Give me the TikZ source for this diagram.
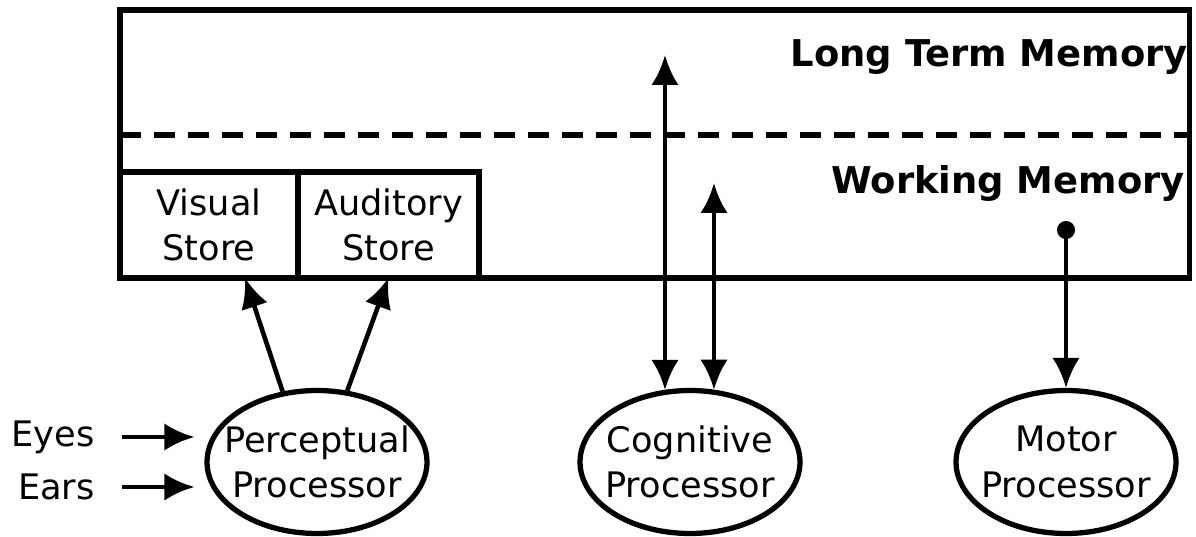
\documentclass[tikz,border=0pt]{standalone}
\usepackage{fontspec}
\setmainfont{DejaVu Sans}
\usetikzlibrary{arrows.meta,positioning,shapes.geometric}
\tikzset{
  membox/.style={draw,line width=3pt,minimum width=21.4cm,minimum height=5.36cm,
    inner sep=0pt,outer sep=0pt},
  storebox/.style={draw,line width=3pt,minimum height=2.12cm,inner sep=0pt,outer sep=0pt,
    align=center,font=\fontsize{20}{26}\selectfont},
  procshape/.style={draw,ellipse,line width=3pt,minimum width=4.4cm,minimum height=2.86cm,
    inner sep=0pt},
  proctext/.style={align=center,inner sep=0pt,font=\fontsize{20}{26}\selectfont},
  memlabel/.style={anchor=east,inner sep=0pt,font=\bfseries\fontsize{21}{24}\selectfont},
  sidelabel/.style={anchor=east,inner sep=0pt,font=\fontsize{20}{24}\selectfont},
  flowarrow/.style={-{Latex[length=6mm,width=5.5mm]},line width=2.6pt},
  botharrow/.style={{Latex[length=6mm,width=5.5mm]}-{Latex[length=6mm,width=5.5mm]},line width=2.6pt},
  dotarrow/.style={{Circle[length=3.6mm]}-{Latex[length=6mm,width=5.5mm]},line width=2.6pt}
}

\begin{document}
\begin{tikzpicture}[x=0.02cm,y=-0.02cm,node distance=0pt]
  \useasboundingbox (0,0) rectangle (1196,537);
  % memory
  \node[membox,anchor=north west] (mem) at (120,10) {};
  \coordinate (wmline) at (0,135);
  \draw[line width=3pt,dash pattern=on 0.42cm off 0.26cm] (mem.west |- wmline) -- (mem.east |- wmline);
  \node[memlabel] (ltmlabel) at (1188,57) {Long Term Memory};
  \node[memlabel] (wmlabel) at (1185,183) {Working Memory};
  \node[storebox,minimum width=3.56cm,anchor=south west] (vis) at (mem.south west) {Visual\\Store};
  \node[storebox,minimum width=3.62cm,right=of vis] (aud) {Auditory\\Store};
  % processors
  \node[procshape] (perc) at (317,462) {};
  \node[proctext] (perctext) at (perc) {Perceptual\\Processor};
  \node[procshape] (cog) at (690,462) {};
  \node[proctext] (cogtext) at (cog) {Cognitive\\Processor};
  \node[procshape] (mot) at (1066,462) {};
  \node[proctext] (mottext) at (mot) {Motor\\Processor};
  \node[sidelabel] (eyes) at (95,437) {Eyes};
  \node[sidelabel] (ears) at (95,487) {Ears};
  % connectors
  \draw[flowarrow,shorten <=0.54cm,shorten >=0.2cm] (eyes.east) -- (perc.west |- eyes.east);
  \draw[flowarrow,shorten <=0.54cm,shorten >=0.2cm] (ears.east) -- (perc.west |- ears.east);
  \draw[flowarrow] (perc.116) -- ([xshift=0.72cm]vis.south);
  \draw[flowarrow] (perc.67) -- (aud.south);
  \coordinate (ltmtip) at (665,55);
  \coordinate (wmtip) at (714,183);
  \draw[botharrow] (ltmtip) -- (ltmtip |- cog.110);
  \draw[botharrow] (wmtip) -- (wmtip |- cog.71);
  \coordinate (wmdot) at (1066,221);
  \draw[dotarrow] (wmdot) -- (mot.north);
\end{tikzpicture}
\end{document}
